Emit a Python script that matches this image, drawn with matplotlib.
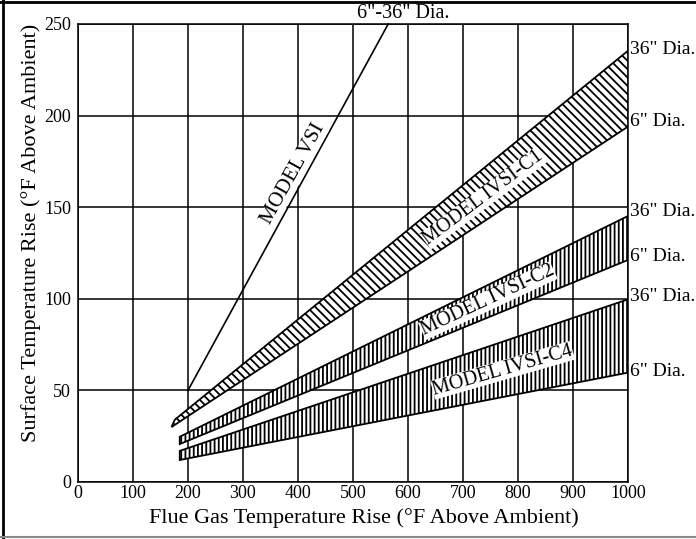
import matplotlib
matplotlib.use('Agg')
import matplotlib.pyplot as plt
from matplotlib.lines import Line2D
from matplotlib.patches import Polygon

plt.rcParams['font.family'] = ['Liberation Serif', 'DejaVu Serif']
plt.rcParams['hatch.linewidth'] = 1.3

# Donnees
vsi_x = [200, 564]
vsi_y = [50, 250]

# bandes: bord inferieur (6" Dia.) et bord superieur (36" Dia.)
c1_low_x = [170, 1000]
c1_low_y = [30, 194]
c1_high_x = [176, 1000]
c1_high_y = [34, 235.4]

c2_low_x = [185, 1000]
c2_low_y = [20.7, 121.2]
c2_high_x = [185, 1000]
c2_high_y = [24.7, 145.2]

c4_low_x = [185, 1000]
c4_low_y = [12, 59.7]
c4_high_x = [185, 1000]
c4_high_y = [17, 99.7]

x_ticks = [0, 100, 200, 300, 400, 500, 600, 700, 800, 900, 1000]
y_ticks = [0, 50, 100, 150, 200, 250]

fig = plt.figure(figsize=(6.96, 5.39), dpi=100)
ax = fig.add_axes([78 / 696, 1 - 482 / 539, 550 / 696, 458 / 539])
ax.set_xlim(0, 1000)
ax.set_ylim(0, 250)
ax.set_xticks(x_ticks)
ax.set_yticks(y_ticks)
ax.tick_params(length=0, labelsize=13)
ax.tick_params(axis='x', pad=2)
ax.tick_params(axis='y', pad=5)
ax.grid(True, color='black', linewidth=1.1)
ax.set_axisbelow(True)
for s in ax.spines.values():
    s.set_linewidth(1.1)

ax.set_xlabel('Flue Gas Temperature Rise (°F Above Ambient)', fontsize=16)
ax.set_ylabel('Surface Temperature Rise (°F Above Ambient)', fontsize=16)
ax.xaxis.set_label_coords(0.52, -0.058)
ax.yaxis.set_label_coords(-0.068, 0.545)


def add_band(lx, ly, hx, hy, hatch):
    pts = [(lx[0], ly[0]), (lx[1], ly[1]), (hx[1], hy[1]), (hx[0], hy[0])]
    poly = Polygon(pts, closed=True, facecolor='white', edgecolor='black',
                   hatch=hatch, linewidth=1.3, zorder=3)
    ax.add_patch(poly)


add_band(c1_low_x, c1_low_y, c1_high_x, c1_high_y, '\\\\\\\\')
add_band(c2_low_x, c2_low_y, c2_high_x, c2_high_y, '||||')
add_band(c4_low_x, c4_low_y, c4_high_x, c4_high_y, '||||')

ax.plot(vsi_x, vsi_y, color='black', linewidth=1.2, zorder=3, clip_on=False)

box = dict(facecolor='white', edgecolor='none', pad=0.2)
ax.text(392, 168, 'MODEL VSI', rotation=61, rotation_mode='anchor',
        ha='center', va='center', fontsize=15, bbox=box, zorder=4)
ax.text(737, 155, 'MODEL IVSI-C1', rotation=37, rotation_mode='anchor',
        ha='center', va='center', fontsize=14.5, bbox=box, zorder=4)
ax.text(745, 99, 'MODEL IVSI-C2', rotation=25, rotation_mode='anchor',
        ha='center', va='center', fontsize=14.5, bbox=box, zorder=4)
ax.text(772, 61, 'MODEL IVSI-C4', rotation=16, rotation_mode='anchor',
        ha='center', va='center', fontsize=14.5, bbox=box, zorder=4)

# etiquettes des diametres
ax.text(592, 256, '6"-36" Dia.', ha='center', va='center', fontsize=14.5, clip_on=False)
right_labels = [('36" Dia.', 236), ('6" Dia.', 197), ('36" Dia.', 147.5),
                ('6" Dia.', 123), ('36" Dia.', 101), ('6" Dia.', 60.2)]
for txt, yy in right_labels:
    ax.text(1003, yy, txt, ha='left', va='center', fontsize=14, clip_on=False)

# cadre de la figure (haut, gauche, bas)
fig.add_artist(Line2D([0, 1], [1 - 2 / 539, 1 - 2 / 539], transform=fig.transFigure,
                      color='black', linewidth=2))
fig.add_artist(Line2D([3 / 696, 3 / 696], [0, 1], transform=fig.transFigure,
                      color='black', linewidth=2))
fig.add_artist(Line2D([0, 1], [2.5 / 539, 2.5 / 539], transform=fig.transFigure,
                      color='#888888', linewidth=1.5))

plt.savefig('out.png', dpi=100)
